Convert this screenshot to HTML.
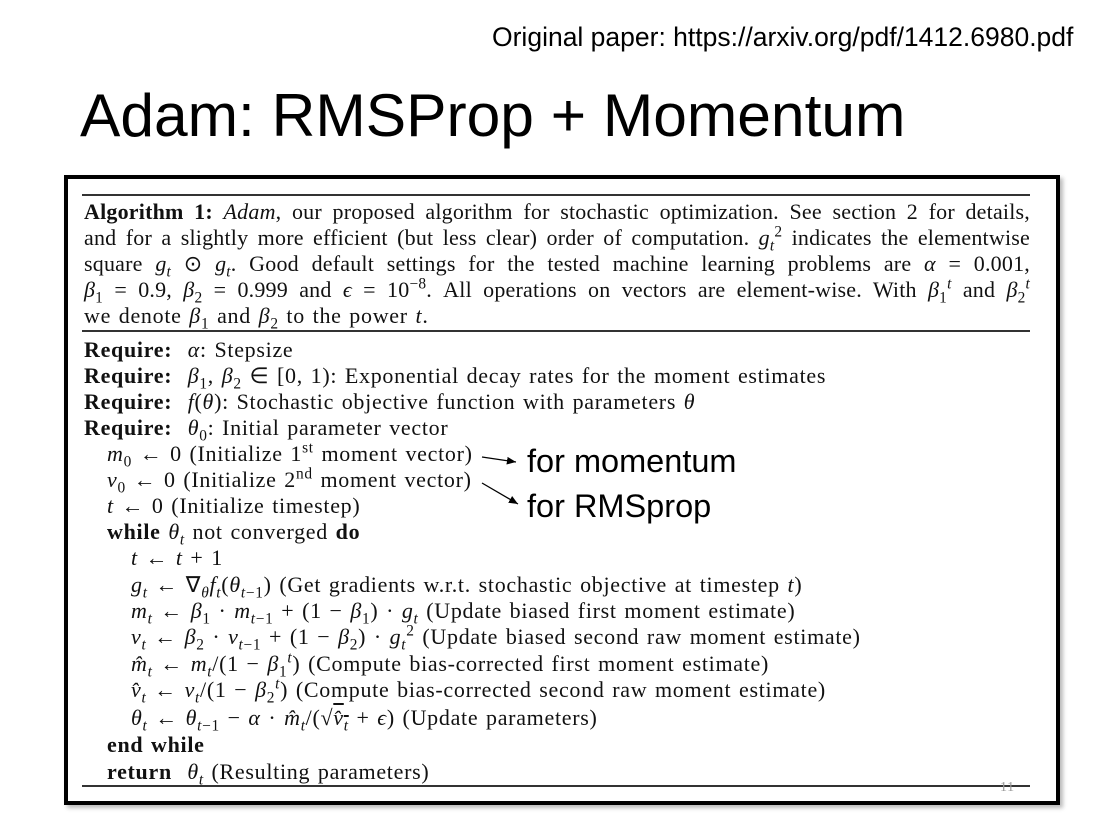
<!DOCTYPE html>
<html><head><meta charset="utf-8"><style>
body{margin:0;width:1104px;height:824px;background:#fff;position:relative;overflow:hidden;font-family:"Liberation Serif",serif;}
.t{position:absolute;font-size:22px;letter-spacing:0.7px;word-spacing:1.5px;line-height:24px;white-space:nowrap;color:#111;}
.j{position:absolute;left:84px;width:946px;font-size:22px;letter-spacing:0.2px;line-height:24px;text-align:justify;text-align-last:justify;white-space:nowrap;color:#111}
i{font-style:italic}
sub,sup{font-size:70%;line-height:0}
.rule{position:absolute;left:82px;width:948px;background:#333}
</style></head><body>
<div style="position:absolute;left:492px;top:22px;font-family:'Liberation Sans',sans-serif;font-size:26.5px;">Original paper: https://arxiv.org/pdf/1412.6980.pdf</div>
<div style="position:absolute;left:80px;top:80px;font-family:'Liberation Sans',sans-serif;font-size:60.5px;line-height:70px;">Adam: RMSProp + Momentum</div>
<div style="position:absolute;left:64px;top:175px;width:988px;height:622px;border:4px solid #000;box-shadow:3px 3px 4px #bbb;"></div>
<div class="rule" style="top:194px;height:1.5px"></div>
<div class="rule" style="top:330px;height:1.5px"></div>
<div class="rule" style="top:785px;height:1.5px"></div>
<div class="t" style="left:1000px;top:776px;color:#999;font-size:14px">11</div>
<div class="j" style="top:200px"><b>Algorithm 1:</b> <i>Adam</i>, our proposed algorithm for stochastic optimization. See section 2 for details,</div>
<div class="j" style="top:226px">and for a slightly more efficient (but less clear) order of computation. <i>g</i><sub><i>t</i></sub><sup>2</sup> indicates the elementwise</div>
<div class="j" style="top:252px">square <i>g<sub>t</sub></i> ⊙ <i>g<sub>t</sub></i>. Good default settings for the tested machine learning problems are <i>α</i> = 0.001,</div>
<div class="j" style="top:278px"><i>β</i><sub>1</sub> = 0.9, <i>β</i><sub>2</sub> = 0.999 and <i>ϵ</i> = 10<sup>−8</sup>. All operations on vectors are element-wise. With <i>β</i><sub>1</sub><sup><i>t</i></sup> and <i>β</i><sub>2</sub><sup><i>t</i></sup></div>
<div class="t" style="left:84px;top:304px">we denote <i>β</i><sub>1</sub> and <i>β</i><sub>2</sub> to the power <i>t</i>.</div>
<div class="t" style="left:84px;top:338px"><b>Require:</b> &nbsp;<i>α</i>: Stepsize</div>
<div class="t" style="left:84px;top:364px"><b>Require:</b> &nbsp;<i>β</i><sub>1</sub>, <i>β</i><sub>2</sub> ∈ [0, 1): Exponential decay rates for the moment estimates</div>
<div class="t" style="left:84px;top:390px"><b>Require:</b> &nbsp;<i>f</i>(<i>θ</i>): Stochastic objective function with parameters <i>θ</i></div>
<div class="t" style="left:84px;top:416px"><b>Require:</b> &nbsp;<i>θ</i><sub>0</sub>: Initial parameter vector</div>
<div class="t" style="left:107px;top:442px"><i>m</i><sub>0</sub> ← 0 (Initialize 1<sup>st</sup> moment vector)</div>
<div class="t" style="left:107px;top:468px"><i>v</i><sub>0</sub> ← 0 (Initialize 2<sup>nd</sup> moment vector)</div>
<div class="t" style="left:107px;top:494px"><i>t</i> ← 0 (Initialize timestep)</div>
<div class="t" style="left:107px;top:520px"><b>while</b> <i>θ<sub>t</sub></i> not converged <b>do</b></div>
<div class="t" style="left:131px;top:546px"><i>t</i> ← <i>t</i> + 1</div>
<div class="t" style="left:131px;top:573px"><i>g<sub>t</sub></i> ← ∇<sub><i>θ</i></sub><i>f<sub>t</sub></i>(<i>θ</i><sub><i>t</i>−1</sub>) (Get gradients w.r.t. stochastic objective at timestep <i>t</i>)</div>
<div class="t" style="left:131px;top:599px"><i>m<sub>t</sub></i> ← <i>β</i><sub>1</sub> · <i>m</i><sub><i>t</i>−1</sub> + (1 − <i>β</i><sub>1</sub>) · <i>g<sub>t</sub></i> (Update biased first moment estimate)</div>
<div class="t" style="left:131px;top:625px"><i>v<sub>t</sub></i> ← <i>β</i><sub>2</sub> · <i>v</i><sub><i>t</i>−1</sub> + (1 − <i>β</i><sub>2</sub>) · <i>g</i><sub><i>t</i></sub><sup>2</sup> (Update biased second raw moment estimate)</div>
<div class="t" style="left:131px;top:652px"><i>m̂<sub>t</sub></i> ← <i>m<sub>t</sub></i>/(1 − <i>β</i><sub>1</sub><sup><i>t</i></sup>) (Compute bias-corrected first moment estimate)</div>
<div class="t" style="left:131px;top:678px"><i>v̂<sub>t</sub></i> ← <i>v<sub>t</sub></i>/(1 − <i>β</i><sub>2</sub><sup><i>t</i></sup>) (Compute bias-corrected second raw moment estimate)</div>
<div class="t" style="left:131px;top:706px"><i>θ<sub>t</sub></i> ← <i>θ</i><sub><i>t</i>−1</sub> − <i>α</i> · <i>m̂<sub>t</sub></i>/(√<span style="text-decoration:overline"><i>v̂<sub>t</sub></i></span> + <i>ϵ</i>) (Update parameters)</div>
<div class="t" style="left:107px;top:733px"><b>end while</b></div>
<div class="t" style="left:107px;top:760px"><b>return</b> &nbsp;<i>θ<sub>t</sub></i> (Resulting parameters)</div>
<svg style="position:absolute;left:0;top:0" width="1104" height="824">
<defs><marker id="a" markerWidth="8" markerHeight="8" refX="7" refY="4" orient="auto"><path d="M0,1 L7,4 L0,7 Z" fill="#000"/></marker></defs>
<line x1="482" y1="457" x2="516" y2="462" stroke="#000" stroke-width="1.3" marker-end="url(#a)"/>
<line x1="482" y1="483" x2="518" y2="504" stroke="#000" stroke-width="1.3" marker-end="url(#a)"/>
</svg>
<div style="position:absolute;left:527px;top:443px;font-family:'Liberation Sans',sans-serif;font-size:32.5px;">for momentum</div>
<div style="position:absolute;left:527px;top:488px;font-family:'Liberation Sans',sans-serif;font-size:32.5px;">for RMSprop</div>
</body></html>
